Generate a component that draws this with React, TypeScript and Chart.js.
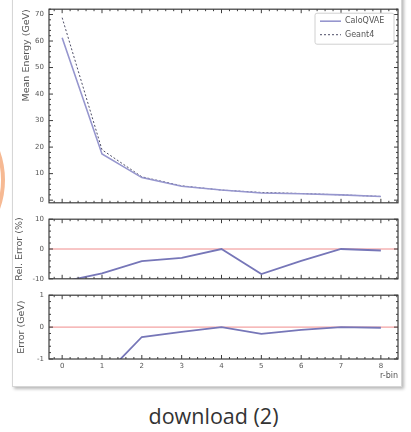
import React, { useEffect, useRef } from "react";
import { Chart, registerables } from "chart.js";

Chart.register(...registerables);

// ---------- data ----------
const rBins = [0, 1, 2, 3, 4, 5, 6, 7, 8];
const caloQVAE = [61.2, 17.4, 8.5, 5.25, 3.8, 2.7, 2.4, 2.0, 1.4];
const geant4 = [68.8, 19.0, 8.8, 5.4, 3.8, 2.9, 2.5, 2.0, 1.4];
const relError = [-11.0, -8.2, -4.1, -3.0, 0.0, -8.4, -4.0, 0.0, -0.5];
const absError = [-7.6, -1.6, -0.31, -0.15, 0.0, -0.21, -0.09, 0.0, -0.02];

const xTickValues = [0, 1, 2, 3, 4, 5, 6, 7, 8];
const energyTicks = [0, 10, 20, 30, 40, 50, 60, 70];
const relTicks = [-10, 0, 10];
const errTicks = [-1, 0, 1];

const seriesLabels = ["CaloQVAE", "Geant4"];
const energyTitle = "Mean Energy (GeV)";
const relTitle = "Rel. Error (%)";
const errTitle = "Error (GeV)";
const xTitle = "r-bin";
const caption = "download (2)";
const referenceLevel = 0;

// ---------- styles ----------
const FONT = "'DejaVu Sans', sans-serif";
const TICK_COLOR = "#555";
const FRAME_COLOR = "#3c3c3c";
const X_MIN = -0.33;
const X_MAX = 8.43;
const CHART_LEFT = 49;

function makeFramePlugin(xMinor: number, yMinor: number, drawRef: boolean) {
  return {
    id: "frameTicks",
    beforeDatasetsDraw(chart: any) {
      if (!drawRef) return;
      const { ctx, chartArea } = chart;
      const y = chart.scales.y.getPixelForValue(referenceLevel);
      ctx.save();
      ctx.strokeStyle = "#f08c8c";
      ctx.lineWidth = 1;
      ctx.beginPath();
      ctx.moveTo(chartArea.left, y);
      ctx.lineTo(chartArea.right, y);
      ctx.stroke();
      ctx.restore();
    },
    afterDraw(chart: any) {
      const { ctx, chartArea } = chart;
      const { left, right, top, bottom } = chartArea;
      const xs = chart.scales.x;
      const ys = chart.scales.y;
      ctx.save();
      ctx.strokeStyle = FRAME_COLOR;
      ctx.lineWidth = 1.2;
      ctx.strokeRect(left, top, right - left, bottom - top);
      ctx.lineWidth = 1;
      const tick = (x1: number, y1: number, x2: number, y2: number) => {
        ctx.beginPath();
        ctx.moveTo(x1, y1);
        ctx.lineTo(x2, y2);
        ctx.stroke();
      };
      // x ticks
      const xStart = Math.ceil(xs.min / xMinor);
      const xEnd = Math.floor(xs.max / xMinor);
      for (let k = xStart; k <= xEnd; k++) {
        const v = k * xMinor;
        const isMajor = Math.abs(v - Math.round(v)) < 1e-6;
        const len = isMajor ? 4 : 2;
        const px = xs.getPixelForValue(v);
        tick(px, bottom, px, bottom - len);
        tick(px, top, px, top + len);
      }
      // y ticks
      const yMajor = ys.ticks.length > 1 ? Math.abs(ys.ticks[1].value - ys.ticks[0].value) : 1;
      const yStart = Math.ceil(ys.min / yMinor - 1e-6);
      const yEnd = Math.floor(ys.max / yMinor + 1e-6);
      for (let k = yStart; k <= yEnd; k++) {
        const v = k * yMinor;
        const r = v / yMajor;
        const isMajor = Math.abs(r - Math.round(r)) < 1e-6;
        const len = isMajor ? 4 : 2;
        const py = ys.getPixelForValue(v);
        tick(left, py, left + len, py);
        tick(right, py, right - len, py);
      }
      ctx.restore();
    },
  };
}

const legendPlugin = {
  id: "boxLegend",
  afterDraw(chart: any) {
    const { ctx, chartArea } = chart;
    const w = 79;
    const h = 31;
    const x0 = chartArea.right - 4 - w;
    const y0 = chartArea.top + 4;
    ctx.save();
    ctx.strokeStyle = "#d0d0d0";
    ctx.lineWidth = 1;
    ctx.fillStyle = "rgba(255,255,255,0.9)";
    ctx.beginPath();
    ctx.roundRect(x0, y0, w, h, 2);
    ctx.fill();
    ctx.stroke();
    ctx.font = `8px ${FONT}`;
    ctx.textBaseline = "middle";
    ctx.fillStyle = "#555";
    chart.data.datasets.forEach((ds: any, i: number) => {
      const y = y0 + 8 + i * 13.5;
      ctx.strokeStyle = ds.borderColor;
      ctx.lineWidth = ds.borderWidth;
      ctx.setLineDash(ds.borderDash || []);
      ctx.beginPath();
      ctx.moveTo(x0 + 5, y);
      ctx.lineTo(x0 + 26, y);
      ctx.stroke();
      ctx.setLineDash([]);
      ctx.fillText(ds.label, x0 + 30, y);
    });
    ctx.restore();
  },
};

function points(ys: number[]) {
  return rBins.map((x, i) => ({ x, y: ys[i] }));
}

function xScale(showLabels: boolean, height: number) {
  return {
    type: "linear",
    min: X_MIN,
    max: X_MAX,
    afterBuildTicks: (s: any) => {
      s.ticks = xTickValues.map((v) => ({ value: v }));
    },
    ticks: {
      display: showLabels,
      font: { size: 7, family: FONT },
      color: TICK_COLOR,
      padding: 3,
      maxRotation: 0,
      autoSkip: false,
    },
    grid: { display: false, drawTicks: false },
    border: { display: false },
    title: {
      display: showLabels,
      text: xTitle,
      align: "end",
      font: { size: 8, family: FONT },
      color: TICK_COLOR,
      padding: { top: 0, bottom: 6 },
    },
    afterFit: (s: any) => {
      s.height = height;
    },
  };
}

function yScale(min: number, max: number, tickVals: number[], title: string, width: number, align: string) {
  return {
    type: "linear",
    min,
    max,
    afterBuildTicks: (s: any) => {
      s.ticks = tickVals.map((v) => ({ value: v }));
    },
    ticks: {
      font: { size: 7, family: FONT },
      color: TICK_COLOR,
      padding: 5,
      autoSkip: false,
      callback: (v: any) => String(v),
    },
    grid: { display: false, drawTicks: false },
    border: { display: false },
    title: {
      display: true,
      text: title,
      align,
      font: { size: 9.5, family: FONT },
      color: TICK_COLOR,
      padding: { top: 3, bottom: 0 },
    },
    afterFit: (s: any) => {
      s.width = width;
    },
  };
}

type PanelProps = {
  top: number;
  height: number;
  config: any;
};

function Panel({ top, height, config }: PanelProps) {
  const ref = useRef<HTMLCanvasElement | null>(null);
  useEffect(() => {
    if (!ref.current) return;
    const chart = new Chart(ref.current, config);
    return () => chart.destroy();
  }, []);
  return (
    <canvas
      ref={ref}
      width={411}
      height={height}
      style={{ position: "absolute", left: 0, top, width: 411, height, filter: "blur(0.35px)" }}
    />
  );
}

const baseOptions = {
  animation: false,
  responsive: false,
  devicePixelRatio: 1,
  events: [],
};

const lineColor = "#7676b8";

const topConfig = {
  type: "line",
  data: {
    datasets: [
      {
        label: seriesLabels[0],
        data: points(caloQVAE),
        borderColor: "#9696ce",
        borderWidth: 1.6,
        pointRadius: 0,
        tension: 0,
      },
      {
        label: seriesLabels[1],
        data: points(geant4),
        borderColor: "#4d4d66",
        borderWidth: 1,
        borderDash: [2, 2],
        pointRadius: 0,
        tension: 0,
      },
    ],
  },
  options: {
    ...baseOptions,
    layout: { padding: { left: 18, top: 9, right: 13, bottom: 9 } },
    plugins: { legend: { display: false }, tooltip: { enabled: false } },
    scales: {
      x: xScale(false, 0),
      y: yScale(-1, 72, energyTicks, energyTitle, CHART_LEFT - 18, "end"),
    },
  },
  plugins: [makeFramePlugin(0.2, 2, false), legendPlugin],
};

const midConfig = {
  type: "line",
  data: {
    datasets: [
      {
        label: relTitle,
        data: points(relError),
        borderColor: lineColor,
        borderWidth: 1.8,
        pointRadius: 0,
        tension: 0,
      },
    ],
  },
  options: {
    ...baseOptions,
    layout: { padding: { left: 11, top: 7, right: 13, bottom: 6 } },
    plugins: { legend: { display: false }, tooltip: { enabled: false } },
    scales: {
      x: xScale(false, 0),
      y: yScale(-10, 10, relTicks, relTitle, CHART_LEFT - 11, "center"),
    },
  },
  plugins: [makeFramePlugin(0.2, 2, true)],
};

const botConfig = {
  type: "line",
  data: {
    datasets: [
      {
        label: errTitle,
        data: points(absError),
        borderColor: lineColor,
        borderWidth: 1.8,
        pointRadius: 0,
        tension: 0,
      },
    ],
  },
  options: {
    ...baseOptions,
    layout: { padding: { left: 13, top: 8, right: 13, bottom: 0 } },
    plugins: { legend: { display: false }, tooltip: { enabled: false } },
    scales: {
      x: xScale(true, 28),
      y: yScale(-1, 1, errTicks, errTitle, CHART_LEFT - 13, "center"),
    },
  },
  plugins: [makeFramePlugin(0.2, 0.2, true)],
};

export default function App() {
  return (
    <div
      style={{
        position: "absolute",
        left: 0,
        top: 0,
        width: 411,
        height: 432,
        overflow: "hidden",
        background: "#ffffff",
      }}
    >
      <div
        style={{
          position: "absolute",
          left: -82 - 87,
          top: 180 - 87,
          width: 174,
          height: 174,
          boxSizing: "border-box",
          borderRadius: "50%",
          border: "4px solid #f6b993",
        }}
      />
      <div
        style={{
          position: "absolute",
          left: 12,
          top: -6,
          width: 390,
          height: 393,
          boxSizing: "border-box",
          border: "1px solid #d6d6d6",
          boxShadow: "2px 2px 3px rgba(0,0,0,0.28)",
          background: "#ffffff",
        }}
      />
      <Panel top={0} height={212} config={topConfig} />
      <Panel top={210} height={78} config={midConfig} />
      <Panel top={286} height={101} config={botConfig} />
      <div
        style={{
          position: "absolute",
          left: 0,
          width: 411,
          top: 402,
          textAlign: "center",
          fontFamily: "'Open Sans', 'Noto Sans', sans-serif",
          fontSize: 21.5,
          lineHeight: "28px",
          color: "#333",
          paddingLeft: 16,
          boxSizing: "border-box",
        }}
      >
        {caption}
      </div>
    </div>
  );
}
